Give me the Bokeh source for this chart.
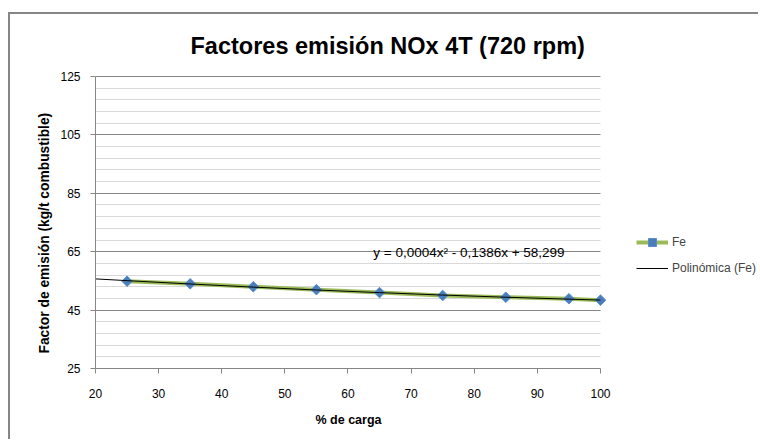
import math
from bokeh.plotting import figure
from bokeh.models import (FixedTicker, Legend, LegendItem, Label, Range1d,
                          ColumnDataSource, Title)
from bokeh.embed import file_html
from bokeh.resources import INLINE

# ---- data ----
carga = [25, 35, 45, 55, 65, 75, 85, 95, 100]
fe = [54.9, 54.0, 53.0, 52.0, 51.0, 50.0, 49.4, 48.9, 48.4]
# displayed polynomial trendline y = a x^2 + b x + c
trend_a, trend_b, trend_c = 0.0004, -0.1386, 58.299
trend_x = [20] + carga
trend_y = [trend_a * x * x + trend_b * x + trend_c for x in trend_x]

x_ticks = [20, 30, 40, 50, 60, 70, 80, 90, 100]
y_ticks = [25, 45, 65, 85, 105, 125]
y_minor = [29, 33, 37, 41, 49, 53, 57, 61, 69, 73, 77, 81, 89, 93, 97, 101,
           109, 113, 117, 121]

title_text = "Factores emisión NOx 4T (720 rpm)"
x_label = "% de carga"
y_label = "Factor de emisión (kg/t combustible)"
equation = "y = 0,0004x² - 0,1386x + 58,299"

FONT = "'Liberation Sans Narrow', 'Liberation Sans', sans-serif"

X_MIN, X_MAX = 20, 100
Y_MIN, Y_MAX = 25, 125
# frame extends over the title and legend areas; axes/grids are bounded
p = figure(width=750, height=427, output_backend="svg", toolbar_location=None,
           x_range=Range1d(X_MIN, 125.35), y_range=Range1d(Y_MIN, 146.23),
           min_border_left=85, min_border_right=0, min_border_top=0,
           min_border_bottom=73)
p.margin = (14, 0, 0, 10)
p.styles = {"box-shadow": "-2px -2px 0px 0px #868686"}
p.background_fill_color = "white"
p.border_fill_color = "white"
p.outline_line_color = None
p.title.visible = False

# chart title
p.add_layout(Label(x=35.05, y=135.5, text=title_text, text_font=FONT,
                   text_font_size="23.5px", text_font_style="bold",
                   text_baseline="alphabetic", text_align="left",
                   text_color="black"))

# axes
for ax in (p.xaxis, p.yaxis):
    ax.axis_line_color = "#868686"
    ax.major_tick_line_color = "#868686"
    ax.minor_tick_line_color = None
    ax.major_tick_in = 0
    ax.major_tick_out = 5
    ax.major_label_text_font = FONT
    ax.major_label_text_font_size = "12px"
    ax.major_label_text_color = "black"

p.xaxis.bounds = (X_MIN, X_MAX)
p.yaxis.bounds = (Y_MIN, Y_MAX)
p.xaxis.ticker = FixedTicker(ticks=x_ticks)
p.yaxis.ticker = FixedTicker(ticks=y_ticks, minor_ticks=y_minor)
p.xaxis.major_label_standoff = 15
p.yaxis.major_label_standoff = 10

# axis titles, placed like the reference's
p.add_layout(Title(text=x_label, align="left", offset=220, standoff=20,
                   text_font=FONT, text_font_size="12.5px",
                   text_font_style="bold", text_color="black"), "below")
p.add_layout(Title(text=y_label, align="left", offset=15, standoff=12,
                   text_font=FONT, text_font_size="13.8px",
                   text_font_style="bold", text_color="black"), "left")

p.xgrid.grid_line_color = None
p.ygrid.grid_line_color = "#868686"
p.ygrid.minor_grid_line_color = "#d9d9d9"
p.ygrid.cross_bounds = (X_MIN, X_MAX)

# series
src = ColumnDataSource(dict(x=carga, y=fe, ang=[math.pi / 4] * len(carga)))
ln = p.line("x", "y", source=src, line_color="#9BBB59", line_width=4)
sc = p.scatter("x", "y", source=src, marker="square", size=7.5,
               angle="ang", fill_color="#4A7EBB", line_color="#5B8CC8",
               line_width=1)
tr = p.line(trend_x, trend_y, line_color="black", line_width=1)

p.add_layout(Label(x=64.0, y=64.7, text=equation, text_font=FONT,
                   text_font_size="13.5px", text_baseline="middle",
                   text_color="black"))

legend = Legend(items=[LegendItem(label="Fe", renderers=[ln, sc]),
                       LegendItem(label="Polinómica (Fe)", renderers=[tr])],
                location=(541, 90), glyph_width=32, glyph_height=20,
                spacing=6, padding=0, margin=0, label_standoff=4,
                label_text_font=FONT, label_text_font_size="12px",
                border_line_color=None, background_fill_alpha=0)
p.add_layout(legend, "center")

open("out.html", "w").write(file_html(p, INLINE))
